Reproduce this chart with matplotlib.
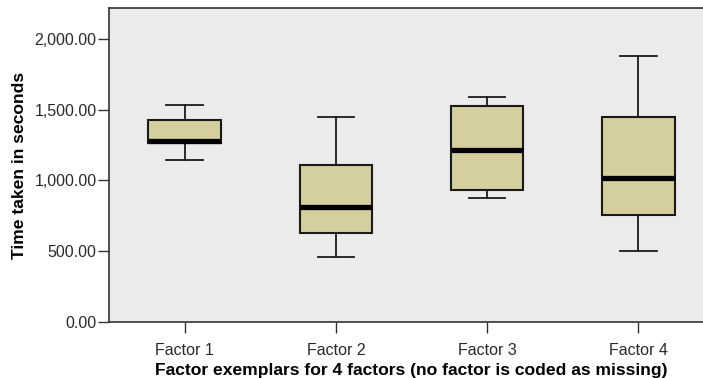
import matplotlib.pyplot as plt

plt.rcParams["font.family"] = ["Liberation Sans", "DejaVu Sans"]

# Valores (segundos)
factores = ["Factor 1", "Factor 2", "Factor 3", "Factor 4"]
whisker_bajo = [1143, 461, 875, 503]
q1 = [1262, 628, 929, 759]
mediana = [1280, 812, 1218, 1016]
q3 = [1430, 1108, 1527, 1449]
whisker_alto = [1534, 1449, 1588, 1880]

stats = []
for i in range(len(factores)):
    stats.append({
        "label": factores[i],
        "whislo": whisker_bajo[i],
        "q1": q1[i],
        "med": mediana[i],
        "q3": q3[i],
        "whishi": whisker_alto[i],
        "fliers": [],
    })

fig = plt.figure(figsize=(7.03, 3.78), dpi=100)
ax = fig.add_axes([109 / 703, 56 / 378, 605 / 703, 314 / 378])
ax.set_facecolor("#EBEBEB")

ax.bxp(stats, positions=[1, 2, 3, 4], widths=0.48, patch_artist=True,
       showfliers=False,
       boxprops=dict(facecolor="#D4CF9C", edgecolor="#1a1a1a", linewidth=1.5),
       medianprops=dict(color="black", linewidth=3.8),
       whiskerprops=dict(color="#1a1a1a", linewidth=1.3),
       capprops=dict(color="#1a1a1a", linewidth=1.3),
       capwidths=0.24)

ax.set_xlim(0.5, 4.5)
ax.set_ylim(0, 2218)
ax.set_yticks([0, 500, 1000, 1500, 2000])
ax.set_yticklabels(["0.00", "500.00", "1,000.00", "1,500.00", "2,000.00"])

for s in ax.spines.values():
    s.set_color("#333333")
    s.set_linewidth(1.2)

ax.tick_params(axis="both", length=8, width=1.0, color="#333333",
               labelsize=11.5, labelcolor="#2a2a2a")
ax.tick_params(axis="x", pad=7)
ax.tick_params(axis="y", pad=1)

ax.set_xlabel("Factor exemplars for 4 factors (no factor is coded as missing)",
              fontsize=12.6, fontweight="bold", labelpad=4)
ax.set_ylabel("Time taken in seconds", fontsize=12.6, fontweight="bold", labelpad=5)

fig.savefig("out.png", dpi=100)
